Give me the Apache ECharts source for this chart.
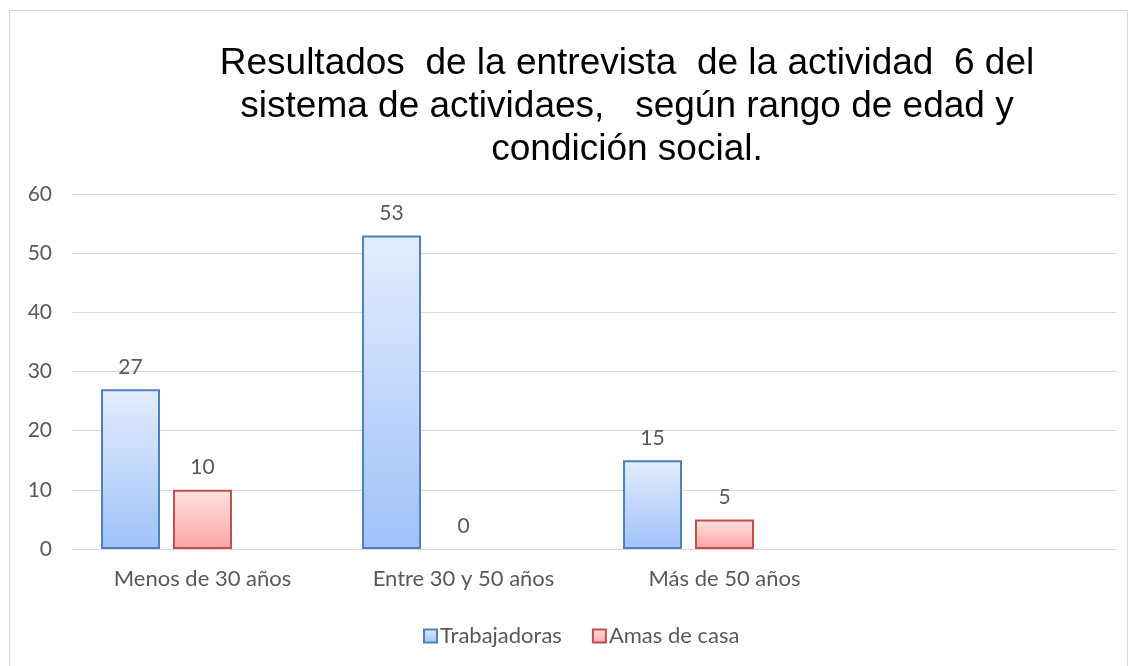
<!DOCTYPE html>
<html>
<head>
<meta charset="utf-8">
<script src="https://cdn.jsdelivr.net/npm/echarts@6/dist/echarts.min.js"></script>
<style>
  html, body { margin: 0; padding: 0; background: #fff; }
  #chart { width: 1135px; height: 666px; }
</style>
</head>
<body>
<div id="chart"></div>
<script>
// data
const categories = ['Menos de 30 años', 'Entre 30 y 50 años', 'Más de 50 años', '']
const trabajadoras = [27, 53, 15, '-']
const amasDeCasa = [10, 0, 5, '-']
const vacia = ['-', '-', '-', '-'] // third (empty) series that keeps the slot
const yTicks = [0, 10, 20, 30, 40, 50, 60]

const titleText = 'Resultados  de la entrevista  de la actividad  6 del\nsistema de actividaes,   según rango de edad y\ncondición social.'
const labelFont = 'Lato, "Open Sans", sans-serif'
const grey = '#595959'

const grad = (top, bottom) =>
  new echarts.graphic.LinearGradient(0, 0, 0, 1, [
    { offset: 0, color: top },
    { offset: 1, color: bottom }
  ])

// a zero bar has no visible outline in the original
const noZeroBorder = arr =>
  arr.map(v => (v === 0 ? { value: 0, itemStyle: { borderWidth: 0 } } : v))

const barLabel = {
  show: true,
  position: 'top',
  distance: 12,
  color: grey,
  fontFamily: labelFont,
  fontSize: 21
}

const myChart = echarts.init(document.getElementById('chart'))
myChart.setOption({
  animation: false,
  title: {
    text: titleText,
    left: 622,
    top: 37,
    textAlign: 'center',
    textStyle: {
      fontFamily: '"Liberation Sans", Arial, sans-serif',
      fontWeight: 'normal',
      fontSize: 37,
      lineHeight: 43,
      color: '#000'
    }
  },
  graphic: [{
    type: 'rect',
    shape: { x: 9.5, y: 10.5, width: 1118, height: 670 },
    style: { fill: 'none', stroke: '#d9d9d9', lineWidth: 1 },
    silent: true
  }],
  legend: {
    data: ['Trabajadoras', 'Amas de casa'],
    icon: 'rect',
    left: 418,
    top: 620,
    itemWidth: 13,
    itemHeight: 13,
    itemGap: 30,
    textStyle: { color: grey, fontFamily: labelFont, fontSize: 22, padding: [0, 0, 0, -2] }
  },
  grid: { left: 72, right: 19, top: 194, bottom: 117 },
  xAxis: {
    type: 'category',
    data: categories,
    axisLine: { lineStyle: { color: '#d9d9d9' } },
    axisTick: { show: false },
    axisLabel: { color: grey, fontFamily: labelFont, fontSize: 22, margin: 19 }
  },
  yAxis: {
    type: 'value',
    min: yTicks[0],
    max: yTicks[yTicks.length - 1],
    interval: 10,
    axisLine: { show: false },
    axisTick: { show: false },
    axisLabel: { color: grey, fontFamily: labelFont, fontSize: 21, margin: 20 },
    splitLine: { lineStyle: { color: '#d9d9d9' } }
  },
  series: [
    {
      name: 'Trabajadoras',
      type: 'bar',
      data: noZeroBorder(trabajadoras),
      barWidth: 59,
      barGap: '22%',
      itemStyle: {
        color: grad('#e3edfd', '#9fc2f9'),
        borderColor: '#4f7fbd',
        borderWidth: 2
      },
      label: barLabel
    },
    {
      name: 'Amas de casa',
      type: 'bar',
      data: noZeroBorder(amasDeCasa),
      barWidth: 59,
      barGap: '22%',
      itemStyle: {
        color: grad('#ffe3e3', '#ffa3a3'),
        borderColor: '#c0504d',
        borderWidth: 2
      },
      label: barLabel
    },
    {
      name: 'vacia',
      type: 'bar',
      data: vacia,
      barWidth: 59,
      barGap: '22%'
    }
  ]
})
window.addEventListener('resize', () => myChart.resize())
</script>
</body>
</html>
